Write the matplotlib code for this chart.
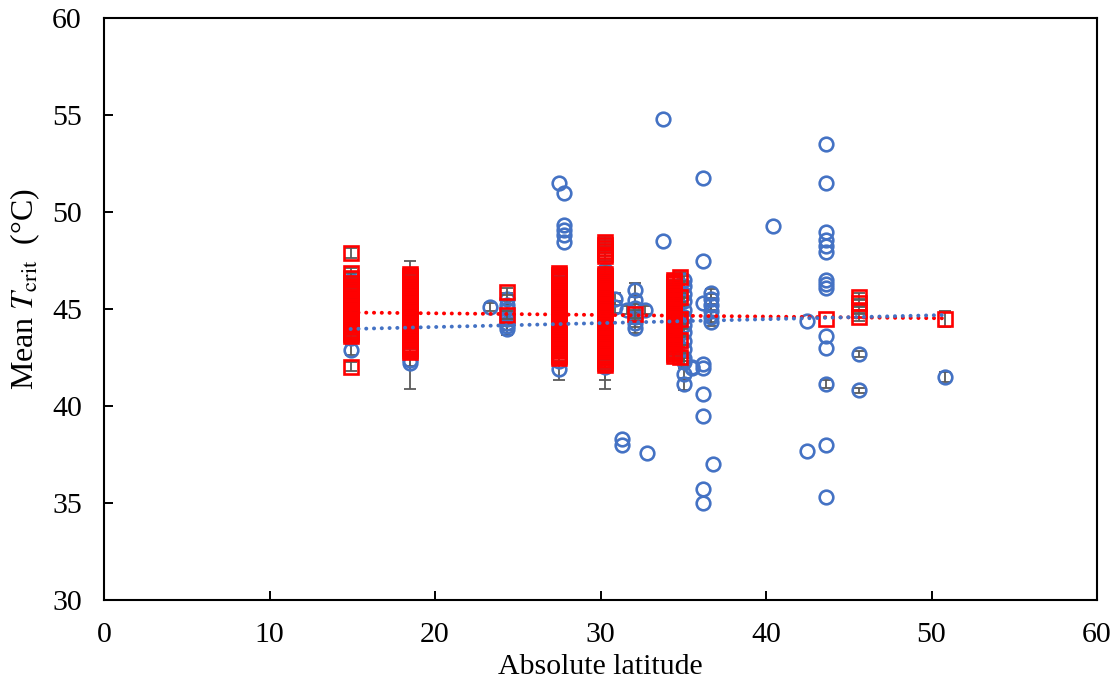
import numpy as np
import matplotlib
matplotlib.use("Agg")
import matplotlib.pyplot as plt

# ---------------- data ----------------
# Blue circles: site latitude and mean Tcrit values at that latitude
blue_lat = [14.9, 18.5, 23.3, 24.33, 27.5, 27.8, 30.3, 30.9, 31.3, 31.6, 32.1,
            32.7, 32.8, 33.8, 34.5, 35.05, 35.5, 36.2, 36.7, 36.8, 40.4, 42.5,
            43.6, 45.6, 50.8]
blue_t = [
    [46.5, 45.55, 45.3, 44.6, 43.5, 42.9],
    [46.5, 45.0, 44.0, 43.0, 42.35, 42.2],
    [45.12],
    [45.5, 45.2, 45.0, 44.7, 44.5, 44.3, 44.1, 43.95],
    [51.48, 46.5, 45.0, 43.5, 42.3, 41.9],
    [51.0, 49.33, 49.07, 48.81, 48.47],
    [47.0, 45.5, 44.0, 42.3, 42.0, 42.15],
    [45.5, 45.1],
    [38.3, 37.99],
    [44.95],
    [45.98, 45.46, 45.04, 44.6, 44.26, 44.0],
    [44.95],
    [37.6],
    [54.78, 48.5],
    [46.0, 44.5, 43.0],
    [46.5, 46.2, 45.75, 45.4, 44.95, 44.6, 44.15, 43.8, 43.35, 42.95, 42.5, 42.25, 41.66, 41.14],
    [41.94, 42.0],
    [51.77, 47.47, 45.3, 42.15, 41.97, 40.62, 39.5, 35.72, 35.02],
    [45.8, 45.5, 45.2, 44.9, 44.6, 44.35],
    [37.0],
    [49.3],
    [44.4, 37.7],
    [53.49, 51.48, 48.99, 48.56, 48.26, 47.95, 46.49, 46.29, 46.1, 43.6, 42.97, 41.12, 37.99, 35.33],
    [42.7, 40.8],
    [41.51],
]
blue_err = [
    [0.2, 0.2, 0.2, 0.2, 0.2, 0.25],
    [1.0, 0.3, 0.3, 0.3, 0.3, 1.3],
    [0.2],
    [0.3, 0.2, 0.2, 0.2, 0.2, 0.2, 0.2, 0.3],
    [0.0, 0.2, 0.2, 0.2, 0.2, 0.55],
    [0.0, 0.0, 0.0, 0.0, 0.0],
    [0.2, 0.2, 0.2, 0.2, 1.1, 0.8],
    [0.3, 0.3],
    [0.0, 0.0],
    [0.2],
    [0.35, 0.2, 0.2, 0.2, 0.2, 0.25],
    [0.2],
    [0.0],
    [0.0, 0.0],
    [0.3, 0.3, 0.3],
    [0.2, 0.2, 0.2, 0.2, 0.2, 0.2, 0.2, 0.2, 0.2, 0.2, 0.2, 0.2, 0.3, 0.3],
    [0.0, 0.0],
    [0.0, 0.0, 0.0, 0.0, 0.0, 0.0, 0.0, 0.0, 0.0],
    [0.25, 0.25, 0.25, 0.25, 0.25, 0.25],
    [0.0],
    [0.0],
    [0.0, 0.0],
    [0.0, 0.0, 0.0, 0.0, 0.0, 0.0, 0.0, 0.0, 0.0, 0.0, 0.0, 0.2, 0.0, 0.0],
    [0.15, 0.15],
    [0.25],
]

# Red squares: site latitude and mean Tcrit values at that latitude
red_lat = [14.9, 18.5, 24.33, 27.5, 30.3, 32.1, 34.45, 34.8, 43.6, 45.6, 50.8]
red_t = [
    [47.9, 46.85, 46.6, 46.35, 46.2, 46.08, 45.97, 45.85, 45.76, 45.63, 45.52,
     45.41, 45.3, 45.18, 45.07, 44.96, 44.84, 44.73, 44.62, 44.5, 44.39, 44.27,
     44.16, 44.05, 43.93, 43.82, 43.71, 43.6, 42.03],
    [46.82, 46.7, 46.58, 46.47, 46.35, 46.24, 46.12, 46.0, 45.89, 45.77, 45.66,
     45.54, 45.42, 45.31, 45.19, 45.08, 44.96, 44.85, 44.73, 44.61, 44.5, 44.38,
     44.27, 44.15, 44.03, 43.92, 43.8, 43.69, 43.57, 43.45, 43.34, 43.22, 43.1,
     42.99, 42.87, 42.76],
    [45.9, 44.7],
    [46.88, 46.76, 46.65, 46.53, 46.42, 46.3, 46.18, 46.07, 45.95, 45.84, 45.72,
     45.6, 45.49, 45.37, 45.26, 45.14, 45.02, 44.91, 44.79, 44.68, 44.56, 44.44,
     44.33, 44.21, 44.1, 43.98, 43.86, 43.75, 43.63, 43.52, 43.4, 43.28, 43.17,
     43.05, 42.94, 42.82, 42.7, 42.59, 42.47],
    [48.45, 48.3, 48.15, 48.0, 47.85, 47.72,
     46.82, 46.72, 46.61, 46.5, 46.4, 46.29, 46.17, 46.06, 45.94, 45.83, 45.71,
     45.59, 45.48, 45.36, 45.25, 45.13, 45.01, 44.9, 44.78, 44.67, 44.55, 44.43,
     44.32, 44.2, 44.09, 43.97, 43.85, 43.74, 43.62, 43.51, 43.39, 43.27, 43.16,
     43.04, 42.93, 42.81, 42.69, 42.58, 42.46, 42.35, 42.23, 42.13],
    [44.73],
    [46.5, 46.38, 46.27, 46.15, 46.04, 45.92, 45.8, 45.69, 45.57, 45.46, 45.34,
     45.22, 45.11, 44.99, 44.88, 44.76, 44.64, 44.53, 44.41, 44.3, 44.18, 44.06,
     43.95, 43.83, 43.72, 43.6, 43.48, 43.37, 43.25, 43.14, 43.02, 42.9, 42.79,
     42.67, 42.6],
    [46.67, 45.6, 44.5, 43.4, 42.55],
    [44.48],
    [45.64, 45.3, 44.95, 44.6],
    [44.48],
]
red_err = [0.25, 0.3, 0.2, 0.25, 0.25, 0.2, 0.25, 0.25, 0.0, 0.2, 0.4]

# Linear trendlines (end points)
trend_lat = [14.9, 50.8]
red_trend = [44.82, 44.52]
blue_trend = [43.97, 44.69]

x_ticks = [0, 10, 20, 30, 40, 50, 60]
y_ticks = [30, 35, 40, 45, 50, 55, 60]

# ---------------- styling ----------------
BLUE = "#4472C4"
RED = "#FF0000"
GREY = "#5A5A5A"
FONT = "Liberation Serif"
FS = 21.5

plt.rcParams["font.family"] = [FONT, "DejaVu Serif"]
plt.rcParams["mathtext.fontset"] = "stix"

W, H = 1119, 687
fig = plt.figure(figsize=(W / 100, H / 100), dpi=100)
left, right, top, bottom = 104, 1097, 18, 600
ax = fig.add_axes([left / W, 1 - bottom / H, (right - left) / W, (bottom - top) / H])

ebkw = dict(fmt="none", ecolor=GREY, elinewidth=1.3, capsize=4.0, capthick=1.3)


def draw_errors(lat, ts, es, z):
    ts = np.asarray(ts, float)
    es = np.broadcast_to(np.asarray(es, float), ts.shape)
    keep = es > 0
    if keep.any():
        ax.errorbar(np.full(keep.sum(), lat), ts[keep], yerr=es[keep], zorder=z, **ebkw)


# blue series
for lat, ts, es in zip(blue_lat, blue_t, blue_err):
    draw_errors(lat, ts, es, 2)
    ax.plot(np.full(len(ts), lat), ts, linestyle="none", marker="o", markersize=9.8,
            markerfacecolor="none", markeredgecolor=BLUE, markeredgewidth=1.9,
            zorder=3)

# red series
for lat, ts, e in zip(red_lat, red_t, red_err):
    draw_errors(lat, ts, e, 4)
    ax.plot(np.full(len(ts), lat), ts, linestyle="none", marker="s", markersize=9.8,
            markerfacecolor="none", markeredgecolor=RED, markeredgewidth=1.9,
            zorder=5)

# trendlines
for ys, c in ((red_trend, RED), (blue_trend, BLUE)):
    ax.plot(trend_lat, ys, color=c, linewidth=2.8, linestyle=(0, (0.05, 1.95)),
            dash_capstyle="round", solid_capstyle="round", zorder=6)

ax.set_xlim(0, 60)
ax.set_ylim(30, 60)
ax.set_xticks(x_ticks)
ax.set_yticks(y_ticks)
ax.tick_params(axis="both", direction="in", length=6.5, width=1.4,
               labelsize=FS, pad=16, top=False, right=False)
for sp in ax.spines.values():
    sp.set_linewidth(1.5)
    sp.set_color("black")

ax.set_xlabel("Absolute latitude", fontsize=FS, labelpad=4)
ax.set_ylabel(r"Mean $\mathit{T}_{\mathrm{crit}}$  (°C)", fontsize=23)
ax.yaxis.set_label_coords(-0.0625, 0.534)

fig.savefig("out.png", dpi=100)
